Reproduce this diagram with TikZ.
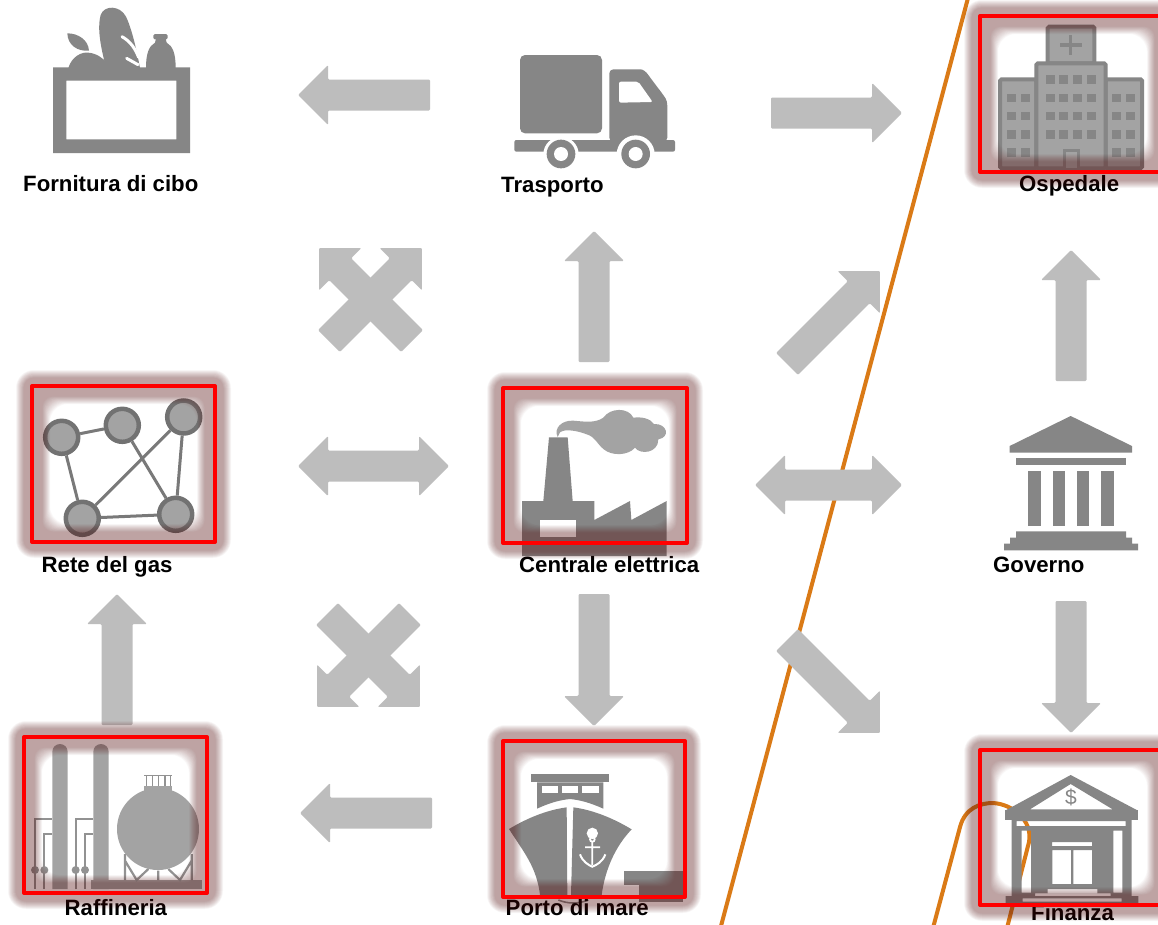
\documentclass[tikz,border=0pt]{standalone}
\usepackage{fontspec}
\setmainfont{Liberation Sans}
\definecolor{iconc}{HTML}{868686}
\definecolor{iconl}{HTML}{A3A3A3}
\definecolor{arrowc}{HTML}{BDBDBD}
\definecolor{glowc}{RGB}{90,20,20}
\definecolor{linec}{HTML}{DA7A16}
\tikzset{
  lbl/.style={font=\fontsize{22.2}{24}\selectfont\bfseries,text=black,inner sep=0pt,anchor=base west},
  icon/.style={fill=iconc},
  iconlight/.style={fill=iconl},
  framed/.style={draw=iconc,fill=iconl,line width=4pt,rounded corners=1.5pt},
  blank/.style={fill=white},
  blockarrow/.style={fill=arrowc,rounded corners=1.2pt},
  orange line/.style={draw=linec,line width=4pt},
  redbox/.style={draw=red,line width=4pt,line join=round},
  gasnode/.style={circle,draw=iconc!85!black,fill=iconl,line width=4.5pt,minimum size=33pt,inner sep=0pt},
  gaslink/.style={draw=iconc!90!black,line width=3pt},
  pipe/.style={draw=iconc!90!white,line width=2.2pt},
}
\newcommand{\barrow}[4]{\fill[blockarrow,shift={(#1,#2)},rotate=#3]
  (0,-15.5) -- (#4-30,-15.5) -- (#4-30,-30) -- (#4,0) -- (#4-30,30) -- (#4-30,15.5) -- (0,15.5) -- cycle;}
\newcommand{\dbarrow}[3]{\fill[blockarrow]
  (#1,#3) -- (#1+30,#3-30) -- (#1+30,#3-15.5) -- (#2-30,#3-15.5) -- (#2-30,#3-30) -- (#2,#3)
  -- (#2-30,#3+30) -- (#2-30,#3+15.5) -- (#1+30,#3+15.5) -- (#1+30,#3+30) -- cycle;}
\newcommand{\glowbox}[4]{\foreach \d in {10.5,11,...,18}{%
  \fill[glowc,opacity=.0285,even odd rule,rounded corners=\d pt]
    (#1-\d+2,#2-\d+2) rectangle (#3+\d-2,#4+\d-2) (#1+\d,#2+\d) rectangle (#3-\d,#4-\d);}}
\begin{document}
\begin{tikzpicture}[x=1pt,y=-1pt]
\useasboundingbox (0,0) rectangle (1158,924);
\clip (0,0) rectangle (1158,924);
\fill[white] (0,0) rectangle (1158,924);

% orange lines
\draw[orange line] (968,-2) -- (721,926);
\draw[orange line] (933.5,926) -- (960,827) .. controls (965,808) and (980,803) .. (993,803)
  .. controls (1012,804) and (1033,820) .. (1029,842) -- (1007.5,926);

% block arrows
\barrow{430}{95}{180}{132}
\barrow{771}{113}{0}{131}
\barrow{594}{362}{90}{131}
\barrow{787}{364}{45}{131.5}
\barrow{787}{640}{-45}{131.5}
\dbarrow{298}{449}{466}
\dbarrow{755}{902}{485}
\barrow{594}{594}{-90}{132}
\barrow{1071}{381}{90}{131}
\barrow{1071}{601}{-90}{132}
\barrow{117}{725}{90}{131}
\barrow{432}{813}{180}{132}
\barrow{412}{341}{135}{131.5}
\barrow{329}{341}{45}{131.5}
\barrow{327}{614}{-45}{131.5}
\barrow{410}{614}{-135}{131.5}

% food
\begin{scope}[scale=0.33333]
\fill[icon,even odd rule] (159,202) rectangle (570,459) (199,242) rectangle (529,418);
\fill[icon] (205,204) .. controls (215,170) and (245,155) .. (265,158) .. controls (290,160) and (310,175) .. (322,190) -- (330,204) -- cycle;
\fill[icon] (202,100) .. controls (235,100) and (265,120) .. (267,152) .. controls (232,155) and (203,135) .. (202,100) -- cycle;
\fill[icon] (318,204) .. controls (305,150) and (290,90) .. (302,45) .. controls (312,15) and (360,15) .. (378,50) .. controls (395,85) and (410,150) .. (420,204) -- cycle;
\draw[white,line width=3pt,line cap=round] (366,110) .. controls (392,125) and (405,145) .. (416,172);
\draw[white,line width=3pt,line cap=round] (380,175) -- (414,194);
\fill[icon,rounded corners=1.5pt] (460,102) rectangle (503,118);
\fill[icon] (468,116) -- (497,116) -- (500,128) .. controls (518,138) and (527,160) .. (527,204) -- (438,204) .. controls (438,160) and (447,138) .. (465,128) -- cycle;
\end{scope}

% truck
\begin{scope}[shift={(480,0)},scale=0.33333]
\fill[icon,rounded corners=5pt] (120,165) rectangle (366,400);
\fill[icon,rounded corners=2pt] (103,420) rectangle (585,455);
\fill[icon,rounded corners=4pt] (388,425) -- (388,208) -- (470,208) .. controls (490,208) and (500,218) .. (510,232) -- (550,285) .. controls (560,300) and (562,310) .. (562,330) -- (562,425) -- cycle;
\fill[blank] (243,463) circle (53) (467,463) circle (57);
\fill[icon] (243,462) circle (43) (467,462) circle (43);
\fill[blank] (243,462) circle (21) (467,462) circle (21);
\fill[blank,rounded corners=2pt] (417,245) -- (475,245) -- (518,306) -- (417,308) -- cycle;
\end{scope}

% hospital
\begin{scope}[shift={(960,0)},scale=0.33333]
\draw[framed] (120,238) rectangle (229,505);
\draw[framed] (437,238) rectangle (546,505);
\draw[framed] (263,80) rectangle (403,190);
\draw[framed] (229,190) rectangle (437,505);
\draw[iconc,line width=3.2pt] (332,105) -- (332,165) (300,135) -- (365,135);
\foreach \y in {226,281,335,390}{\foreach \x in {258,298,340,381}{\fill[icon] (\x,\y) rectangle ++(27,26);}}
\foreach \y in {281,335,390,445}{\foreach \x in {141,182,456,497}{\fill[icon] (\x,\y) rectangle ++(27,26);}}
\draw[iconc,line width=3pt,fill=iconl] (356,505) -- (356,452) -- (312,452) -- (312,505);
\end{scope}

% gas network
\node[gasnode] (g1) at (61.7,437.3) {};
\node[gasnode] (g2) at (122.3,425.3) {};
\node[gasnode] (g3) at (183.7,417) {};
\node[gasnode] (g4) at (82.3,518.3) {};
\node[gasnode] (g5) at (175.7,514.3) {};
\draw[gaslink] (g1) -- (g2) (g1) -- (g4) (g2) -- (g5) (g3) -- (g4) (g3) -- (g5) (g4) -- (g5);

% power plant
\begin{scope}[shift={(490,375)},scale=0.33333]
\fill[fill=iconl] (203,186) .. controls (190,160) and (215,135) .. (250,137) .. controls (285,140) and (315,145) .. (340,128)
 .. controls (360,98) and (415,96) .. (430,128) .. controls (455,125) and (480,130) .. (492,147)
 .. controls (532,145) and (542,187) .. (505,193) .. controls (505,235) and (450,240) .. (435,218)
 .. controls (415,242) and (365,244) .. (340,222)
 .. controls (320,205) and (315,185) .. (290,178) .. controls (265,168) and (225,160) .. (210,172) -- cycle;
\fill[icon] (177,187) -- (233,187) -- (248,378) -- (313,378) -- (313,435) -- (420,378) -- (424,435) -- (530,378) -- (530,543) -- (96,543) -- (96,378) -- (160,378) -- cycle;
\fill[blank] (150,435) rectangle (258,487);
\end{scope}

% government
\begin{scope}[shift={(980,400)},scale=0.33333]
\fill[icon] (272,48) -- (456,138) -- (456,158) -- (89,158) -- (89,138) -- cycle;
\fill[icon] (108,175) rectangle (438,195);
\foreach \x in {145,218,291,364}{\fill[icon] (\x,212) rectangle ++(37,165);}
\fill[icon] (108,394) -- (438,394) -- (438,413) -- (456,413) -- (456,431) -- (474,431) -- (474,451) -- (72,451) -- (72,431) -- (90,431) -- (90,413) -- (108,413) -- cycle;
\end{scope}

% refinery
\begin{scope}[shift={(0,724)},scale=0.33333]
\foreach \x in {105,133,227,255}{\fill[iconc!90!white] (\x,438) circle (12); \draw[pipe] (\x,495) -- (\x,420);}
\draw[pipe] (105,420) -- (105,285) -- (157,285) (133,420) -- (133,330) -- (157,330)
 (227,420) -- (227,285) -- (280,285) (255,420) -- (255,330) -- (280,330);
\fill[iconlight] (157,495) -- (157,83) arc[start angle=180,end angle=360,radius=23] -- (203,495) -- cycle;
\fill[iconlight] (280,495) -- (280,83) arc[start angle=180,end angle=360,radius=23] -- (326,495) -- cycle;
\fill[iconlight] (272,468) rectangle (606,495);
\draw[pipe] (375,390) -- (375,468) (575,390) -- (575,468) (375,410) -- (410,468) -- (445,435) (575,410) -- (540,468) -- (505,435) (475,440) -- (475,468);
\fill[iconlight] (474,315) circle (123);
\fill[iconlight] (432,185) rectangle (517,205);
\draw[pipe,line width=1.6pt] (432,155) -- (517,155) (440,155) -- (440,185) (457,155) -- (457,185) (475,155) -- (475,185) (495,155) -- (495,185) (512,155) -- (512,185);
\end{scope}

% seaport
\begin{scope}[shift={(490,730)},scale=0.33333]
\fill[icon] (123,132) rectangle (357,157);
\fill[icon] (141,157) -- (340,157) -- (340,236) .. controls (300,218) and (270,210) .. (240,207) .. controls (210,210) and (180,218) .. (141,236) -- cycle;
\foreach \x in {155,216,277}{\fill[blank] (\x,168) rectangle ++(49,22);}
\fill[icon] (57,297) .. controls (110,265) and (170,240) .. (230,232) -- (232,495) -- (150,495) .. controls (140,410) and (100,365) .. (57,297) -- cycle;
\fill[icon] (250,232) .. controls (310,240) and (370,265) .. (425,298) .. controls (375,350) and (345,420) .. (335,495) -- (243,495) -- cycle;
\fill[blank] (307,310) circle (17);
\draw[white,line width=1.8pt] (307,328) circle (7) (307,338) -- (307,405) (285,352) -- (330,352);
\draw[white,line width=2pt] (270,373) .. controls (278,395) and (295,405) .. (307,410) .. controls (320,405) and (338,395) .. (346,373);
\fill[icon] (403,423) rectangle (580,465);
\fill[icon] (447,465) rectangle (580,515);
\draw[iconc,line width=1.6pt] (205,510) .. controls (235,522) and (265,522) .. (295,510);
\end{scope}

% finance
\begin{scope}[shift={(920,740)},scale=0.33333]
\fill[icon,even odd rule] (255,212) -- (452,105) -- (654,212) -- cycle (330,208) -- (452,132) -- (578,208) -- cycle;
\node[font=\fontsize{21}{21}\selectfont,text=iconc,inner sep=0pt] (dollar) at (453,172) {\$};
\fill[icon,even odd rule] (275,240) rectangle (635,468)
  (290,243) rectangle (617,258)
  (305,272) rectangle (333,458)
  (580,272) rectangle (607,458)
  (396,306) rectangle (516,318)
  (397,330) rectangle (453,432)
  (460,330) rectangle (516,432)
  (383,447) rectangle (532,460)
  (345,460) rectangle (572,468);
\fill[icon] (255,210) rectangle (654,240);
\fill[icon,even odd rule] (257,468) rectangle (655,490) (308,475) rectangle (605,485);
\end{scope}

% labels
\node[lbl] (food) at (23,191.5) {Fornitura di cibo};
\node[lbl] (truck) at (501,192.5) {Trasporto};
\node[lbl] (hosp) at (1019,191.5) {Ospedale};
\node[lbl] (gas) at (41.5,572) {Rete del gas};
\node[lbl] (plant) at (519,572) {Centrale elettrica};
\node[lbl] (gov) at (993,572.5) {Governo};
\node[lbl] (ref) at (64.5,915) {Raffineria};
\node[lbl] (port) at (505.5,915) {Porto di mare};
\node[lbl] (fin) at (1031,920) {Finanza};

% glow and red frames
\glowbox{980}{16}{1165}{172}
\glowbox{32}{386}{215}{542}
\glowbox{503}{388}{687}{543}
\glowbox{24}{737}{207}{893}
\glowbox{503}{741}{685}{897}
\glowbox{980}{750}{1165}{905}
\draw[redbox] (980,16) rectangle (1165,172);
\draw[redbox] (32,386) rectangle (215,542);
\draw[redbox] (503,388) rectangle (687,543);
\draw[redbox] (24,737) rectangle (207,893);
\draw[redbox] (503,741) rectangle (685,897);
\draw[redbox] (980,750) rectangle (1165,905);
\end{tikzpicture}
\end{document}
